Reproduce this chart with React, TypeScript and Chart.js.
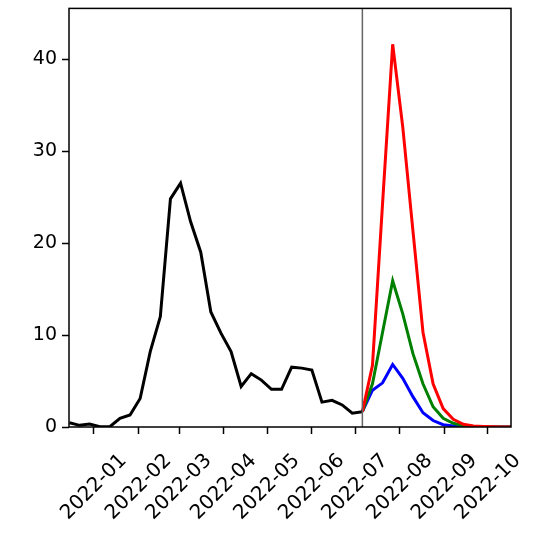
import React, { useEffect, useRef } from 'react';
import { Chart, registerables } from 'chart.js';

Chart.register(...registerables);

// days since 2022-01-01
const observedStart = -17;
const observed = [0.47, 0.18, 0.33, 0.03, 0.03, 0.94, 1.3, 3.1, 8.2, 12.0, 24.8, 26.5, 22.3, 19.0, 12.5, 10.2, 8.2, 4.4, 5.8, 5.1, 4.1, 4.1, 6.5, 6.4, 6.2, 2.7, 2.9, 2.4, 1.5, 1.66];
const forecastStart = 186;
const forecastHigh = [1.66, 6.7, 24.3, 41.6, 32.6, 21.4, 10.3, 4.7, 2.0, 0.83, 0.3, 0.1, 0.05, 0.02, 0.01, 0.0];
const forecastMid = [1.66, 4.7, 10.3, 15.9, 12.3, 8.0, 4.7, 2.2, 0.94, 0.4, 0.15, 0.05, 0.02, 0.01, 0.0, 0.0];
const forecastLow = [1.66, 4.0, 4.8, 6.8, 5.3, 3.3, 1.55, 0.7, 0.25, 0.1, 0.03, 0.01, 0.0, 0.0, 0.0, 0.0];
const monthTicks = [0, 31, 59, 90, 120, 151, 181, 212, 243, 273];
const monthLabels = ['2022-01', '2022-02', '2022-03', '2022-04', '2022-05', '2022-06', '2022-07', '2022-08', '2022-09', '2022-10'];
const yTicks = [0, 10, 20, 30, 40];

const toPoints = (start: number, vals: number[]) => vals.map((v, i) => ({ x: start + i * 7, y: v }));

const frame = {
  id: 'frame',
  afterDatasetsDraw(chart: any) {
    const { ctx, chartArea: a, scales } = chart;
    const vx = scales.x.getPixelForValue(forecastStart);
    ctx.save();
    ctx.strokeStyle = '#666';
    ctx.lineWidth = 1.5;
    ctx.beginPath();
    ctx.moveTo(vx, a.top);
    ctx.lineTo(vx, a.bottom);
    ctx.stroke();
    ctx.strokeStyle = '#000';
    ctx.lineWidth = 1.5;
    ctx.strokeRect(a.left, a.top, a.right - a.left, a.bottom - a.top);
    // rotated month labels, centred under each tick
    ctx.fillStyle = '#000';
    ctx.font = '20px "DejaVu Sans"';
    ctx.textAlign = 'center';
    ctx.textBaseline = 'middle';
    monthTicks.forEach((d, i) => {
      const x = scales.x.getPixelForValue(d);
      ctx.save();
      ctx.translate(x, a.bottom + 60);
      ctx.rotate(-Math.PI / 4);
      ctx.fillText(monthLabels[i], 0, 0);
      ctx.restore();
    });
    ctx.restore();
  },
};

const App = () => {
  const chartRef = useRef<HTMLCanvasElement>(null);

  useEffect(() => {
    document.body.style.margin = '0';
    document.body.style.overflow = 'hidden';
    const font = { family: 'DejaVu Sans', size: 19 };
    const line = (data: any, color: string) => ({
      data,
      borderColor: color,
      borderWidth: 3,
      pointRadius: 0,
      tension: 0,
    });
    const chart = new Chart(chartRef.current as HTMLCanvasElement, {
      type: 'line',
      data: {
        datasets: [
          line(toPoints(observedStart, observed), '#000'),
          line(toPoints(forecastStart, forecastHigh), '#ff0000'),
          line(toPoints(forecastStart, forecastMid), '#008000'),
          line(toPoints(forecastStart, forecastLow), '#0000ff'),
        ] as any,
      },
      options: {
        animation: false,
        responsive: false,
        layout: { padding: { top: 0, right: 23, left: 0, bottom: 0 } },
        plugins: { legend: { display: false }, tooltip: { enabled: false } },
        scales: {
          x: {
            type: 'linear',
            min: -17.3,
            max: 289,
            afterFit: (s: any) => { s.height = 110; },
            afterBuildTicks: (s: any) => { s.ticks = monthTicks.map((v) => ({ value: v })); },
            grid: { drawOnChartArea: false, tickLength: 7, tickWidth: 1.5, color: '#000' },
            border: { display: false },
            ticks: { display: false },
          },
          y: {
            min: 0,
            max: 45.5,
            afterFit: (s: any) => { s.width = 69; },
            afterBuildTicks: (s: any) => { s.ticks = yTicks.map((v) => ({ value: v })); },
            grid: { drawOnChartArea: false, tickLength: 7, tickWidth: 1.5, color: '#000' },
            border: { display: false },
            ticks: { color: '#000', font, padding: 5 },
          },
        },
      },
      plugins: [frame],
    });
    return () => chart.destroy();
  }, []);

  return <canvas ref={chartRef} width={534} height={545} style={{ display: 'block', marginTop: -8 }} />;
};

export default App;
